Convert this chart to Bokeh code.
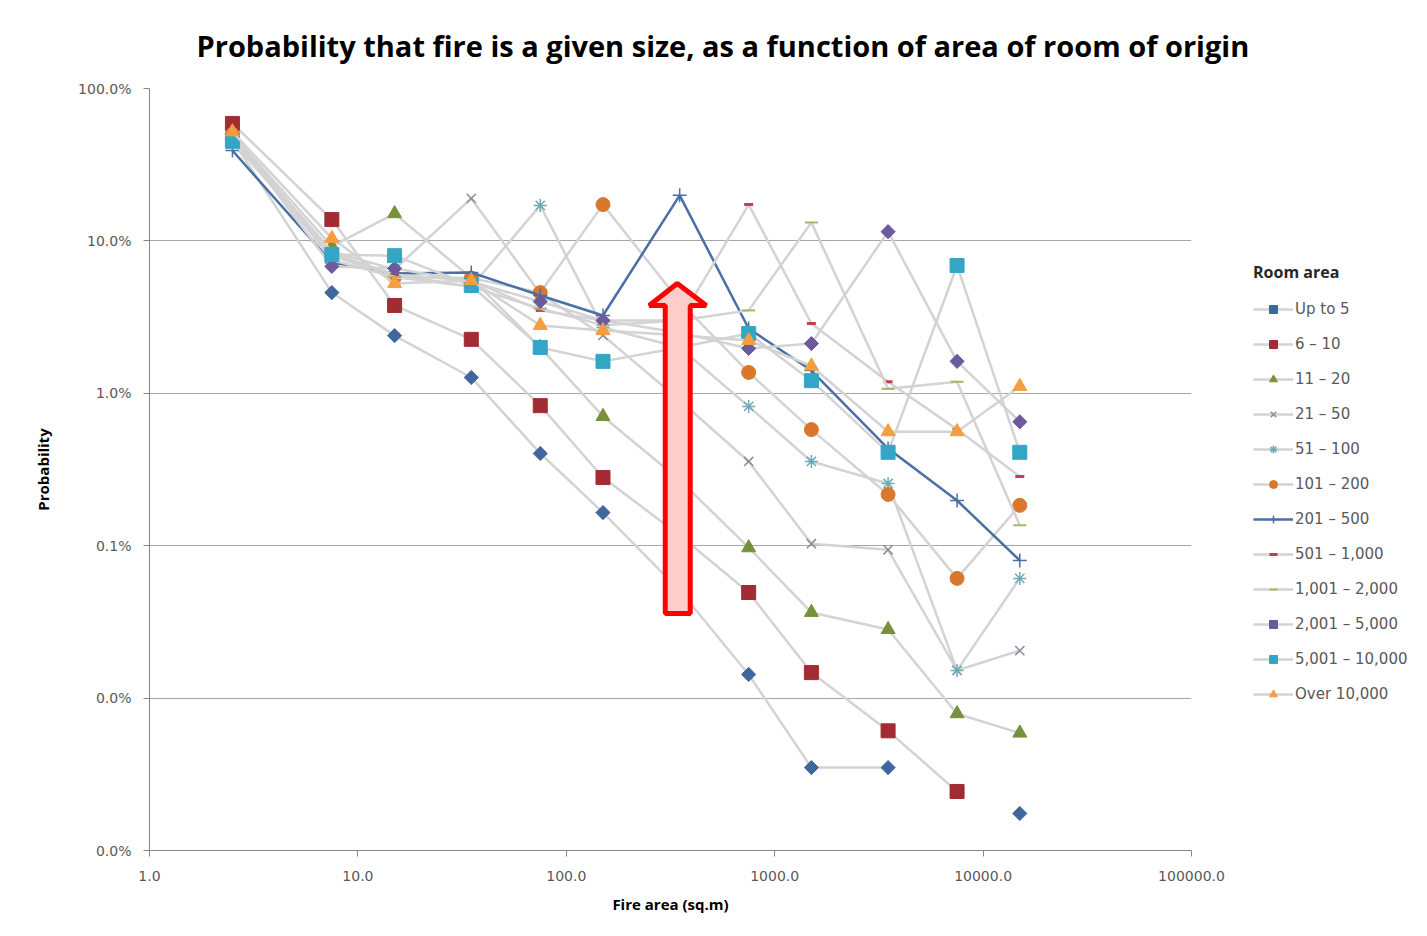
import math
from bokeh.plotting import figure
from bokeh.models import (Range1d, FixedTicker, CustomJSTickFormatter, Legend, LegendItem)
from bokeh.embed import file_html
from bokeh.resources import INLINE

nan = float("nan")

# Fire area (sq.m) – class mid-points on the x axis
fire_area = [2.5, 7.5, 15, 35, 75, 150, 350, 750, 1500, 3500, 7500, 15000]

room_area = ["Up to 5", "6 \u2013 10", "11 \u2013 20", "21 \u2013 50", "51 \u2013 100",
             "101 \u2013 200", "201 \u2013 500", "501 \u2013 1,000", "1,001 \u2013 2,000",
             "2,001 \u2013 5,000", "5,001 \u2013 10,000", "Over 10,000"]

# Probabilities (fractions) for each room-area series
up_to_5     = [0.46, 0.0458, 0.0239, 0.0127, 0.00403, 0.00165, 0.00051, 0.000143, 0.000035, 0.000035, nan, 0.0000175]
r6_10       = [0.59, 0.138, 0.0377, 0.0226, 0.0083, 0.0028, 0.00117, 0.000493, 0.000147, 0.000061, 0.0000244, nan]
r11_20      = [0.50, 0.092, 0.151, 0.057, 0.020, 0.00705, 0.0027, 0.00097, 0.000365, 0.000282, 0.000079, 0.000059]
r21_50      = [0.48, 0.085, 0.065, 0.19, 0.045, 0.024, 0.009, 0.00357, 0.00103, 0.00094, 0.000152, 0.000205]
r51_100     = [0.47, 0.083, 0.06, 0.05, 0.171, 0.027, 0.020, 0.0082, 0.00357, 0.00256, 0.000152, 0.00061]
r101_200    = [0.50, 0.08, 0.058, 0.057, 0.0458, 0.173, 0.04, 0.0137, 0.00578, 0.00217, 0.00061, 0.00184]
r201_500    = [0.392, 0.072, 0.061, 0.062, 0.0438, 0.0324, 0.199, 0.0266, 0.0141, 0.00434, 0.00198, 0.0008]
r501_1000   = [0.50, 0.08, 0.06, 0.055, 0.035, 0.03, 0.03, 0.173, 0.0287, 0.0119, 0.0058, 0.00284]
r1001_2000  = [0.50, 0.075, 0.058, 0.05, 0.036, 0.028, 0.03, 0.035, 0.132, 0.0107, 0.0119, 0.00136]
r2001_5000  = [0.50, 0.068, 0.066, 0.054, 0.040, 0.030, 0.025, 0.0197, 0.0212, 0.115, 0.0162, 0.0065]
r5001_10000 = [0.45, 0.0814, 0.080, 0.051, 0.020, 0.0162, 0.02, 0.0247, 0.0121, 0.0041, 0.069, 0.0041]
over_10000  = [0.52, 0.104, 0.0525, 0.055, 0.0279, 0.0258, 0.024, 0.0222, 0.0151, 0.0056, 0.0056, 0.0111]

series = [up_to_5, r6_10, r11_20, r21_50, r51_100, r101_200, r201_500,
          r501_1000, r1001_2000, r2001_5000, r5001_10000, over_10000]

colors = ["#3F679E", "#A32B33", "#77903C", "#8A8A9C", "#6FA9B7", "#D9782C",
          "#4A6FA5", "#C0404E", "#A3B866", "#6B5A9E", "#33A6C6", "#F59D3F"]
markers = ["square", "square", "triangle", "x", "asterisk", "circle",
           "cross", "dash", "dash", "square", "square", "triangle"]
angles = [math.pi / 4, 0, 0, 0, 0, 0, 0, 0, 0, math.pi / 4, 0, 0]
sizes = [10, 14, 14, 13, 13, 14, 14, 9, 13, 10, 14, 14]
mlw = [1, 1, 1, 1.5, 1.5, 1, 1.5, 3, 2, 1, 1, 1]

# Annotation arrow (data coordinates)
arrow_x = [298.4, 298.4, 250.0, 340.7, 469.5, 393.3, 393.3]
arrow_y = [3.59e-4, 0.03769, 0.03769, 0.05254, 0.03769, 0.03769, 3.59e-4]

p = figure(x_axis_type="log", y_axis_type="log",
           x_range=Range1d(1, 100000), y_range=Range1d(1e-5, 1),
           frame_width=1042, frame_height=762,
           min_border_left=149, min_border_right=228, min_border_top=88, min_border_bottom=78,
           output_backend="svg", toolbar_location=None,
           title="Probability that fire is a given size, as a function of area of room of origin")

p.title.text_font = "Open Sans"
p.title.text_font_size = "29px"
p.title.text_font_style = "bold"
p.title.text_color = "#000000"
p.title.align = "left"
p.title.offset = 47
p.title.standoff = 47

p.outline_line_color = None
p.background_fill_color = "white"
p.border_fill_color = "white"

xt = FixedTicker(ticks=[1, 10, 100, 1000, 10000, 100000])
yt = FixedTicker(ticks=[1e-5, 1e-4, 1e-3, 1e-2, 1e-1, 1])
p.xaxis.ticker = xt
p.yaxis.ticker = yt
p.xaxis.formatter = CustomJSTickFormatter(code="return tick.toFixed(1);")
p.yaxis.formatter = CustomJSTickFormatter(code="return (tick*100).toFixed(1) + '%';")
p.xgrid.visible = False
p.ygrid.ticker = yt
p.ygrid.grid_line_color = "#A6A6A6"
p.ygrid.grid_line_width = 1

for ax in (p.xaxis, p.yaxis):
    ax.axis_line_color = "#868686"
    ax.major_tick_line_color = "#868686"
    ax.minor_tick_line_color = None
    ax.major_tick_out = 6
    ax.major_tick_in = 0
    ax.major_label_text_font = "DejaVu Sans"
    ax.major_label_text_font_size = "14px"
    ax.major_label_text_color = "#595959"
    ax.axis_label_text_font = "Open Sans"
    ax.axis_label_text_font_size = "15px"
    ax.axis_label_text_font_style = "bold"
    ax.axis_label_text_color = "#000000"

p.xaxis.axis_label = "Fire area (sq.m)"
p.yaxis.axis_label = "Probability"
p.xaxis.major_label_standoff = 14
p.yaxis.major_label_standoff = 12
p.xaxis.axis_label_standoff = 10
p.yaxis.axis_label_standoff = 22

items = []
for i, (name, vals) in enumerate(zip(room_area, series)):
    lc = "#4A6FA5" if name == "201 \u2013 500" else "#D3D3D3"
    lr = p.line(fire_area, vals, line_color=lc, line_width=2.5)
    filled = markers[i] in ("square", "triangle", "circle")
    sr = p.scatter(fire_area, vals, marker=markers[i], size=sizes[i], angle=angles[i],
                   fill_color=colors[i] if filled else None, line_color=colors[i],
                   line_width=mlw[i])
    items.append(LegendItem(label=name, renderers=[lr, sr]))

p.patch(arrow_x, arrow_y, fill_color="#FFCCCC", line_color="#FF0000", line_width=5)

legend = Legend(items=items, location=(62, 146))
legend.margin = 0
legend.title = "Room area"
legend.title_text_font = "Open Sans"
legend.title_text_font_size = "16px"
legend.title_text_font_style = "bold"
legend.title_text_color = "#262626"
legend.title_standoff = 16
legend.label_text_font = "DejaVu Sans"
legend.label_text_font_size = "15px"
legend.label_text_color = "#595959"
legend.glyph_width = 40
legend.glyph_height = 20
legend.label_height = 20
legend.label_standoff = 2
legend.spacing = 15
legend.padding = 5
legend.border_line_color = None
legend.background_fill_alpha = 0
p.add_layout(legend, "right")

open("out.html", "w").write(file_html(p, INLINE))
